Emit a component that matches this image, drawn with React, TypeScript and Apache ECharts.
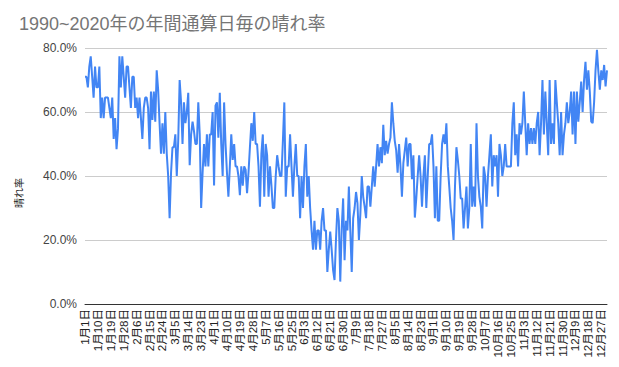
import React, { useEffect, useRef } from "react";
import * as echarts from "echarts";

const TITLE = "1990~2020年の年間通算日毎の晴れ率";
const Y_NAME = "晴れ率";
const monthDays = [31, 28, 31, 30, 31, 30, 31, 31, 30, 31, 30, 31];
const yTicks = [0, 20, 40, 60, 80];

// 晴れ率 (%) by day of year
const jan = [71.0, 71.0, 67.7, 74.2, 77.4, 71.0, 64.5, 74.2, 67.7, 67.7, 74.2, 58.1, 64.5, 58.1, 64.5, 64.5, 64.5, 61.3, 58.1, 64.5, 51.6, 58.1, 48.4, 54.8, 77.4, 67.7, 77.4, 71.0, 64.5, 74.2, 74.2];
const feb = [67.7, 61.3, 71.0, 71.0, 61.3, 64.5, 58.1, 64.5, 58.1, 51.6, 61.3, 64.5, 64.5, 61.3, 48.4, 66.4, 57.5, 66.4, 57, 73, 67, 56.5, 47, 56.5, 47, 60, 47, 40];
const mar = [26.8, 41, 49, 49, 53, 40, 51, 70, 63, 50, 63, 56.5, 60, 66, 43.4, 53, 57, 54, 50, 50, 63, 53, 30, 41, 50, 43, 53, 43, 53, 53, 60];
const apr = [37, 62, 63, 52, 66, 50, 40, 63, 50, 41, 33.5, 43, 53, 45, 50, 43, 43, 40, 34, 43, 37, 43, 42, 34.6, 41, 49, 56.5, 51, 60, 50];
const may = [50, 43, 30.4, 47, 53, 33.5, 50, 46.5, 33.5, 43, 37, 30, 30, 40, 46.5, 43, 40, 40, 51, 63, 33.5, 43, 43, 53, 43, 33.5, 43, 50, 40, 40, 26.8];
const jun = [40, 30, 43, 50, 33.5, 40, 30, 23, 17, 26, 17, 23, 23, 17, 26, 30, 23, 23, 10, 17, 22.6, 17, 10.6, 7.5, 20, 30, 26, 7, 23.6, 33];
const jul = [13.7, 26, 23, 36.7, 23, 10, 26.8, 30, 35, 31.5, 20, 28, 40, 33.5, 30.4, 26.8, 36.7, 36.7, 30.4, 36.7, 43, 36.7, 43, 50, 43, 49, 44, 56, 46.5, 51, 47];
const aug = [50, 52, 63, 56.5, 51, 48, 41, 50, 43, 33.5, 44, 48, 52, 43, 50, 50, 39, 46.5, 27, 33, 40, 46.5, 40, 30.4, 40, 46.5, 30, 40, 50, 50, 53];
const sep = [43, 26.8, 43, 26, 26, 40, 50, 53, 50, 56.5, 43, 36.7, 30, 26, 20, 36.7, 49, 45, 40, 33, 33, 23.6, 30, 36.7, 23.6, 30, 50, 30.4, 36.7, 30.4];
const oct = [56.5, 40, 33.5, 30.4, 23.6, 43, 40, 30.4, 40, 46.5, 53, 36.7, 46.5, 43, 46.5, 33.5, 50, 46.5, 40, 43, 50, 43, 43, 43, 43, 56.5, 63, 46.5, 53, 43, 56.5];
const nov = [53, 56.5, 66.4, 56.5, 46.5, 56.5, 50, 55, 50, 55, 50, 56.5, 60, 46.5, 56.5, 70, 53, 66.4, 56.5, 46.5, 70, 50, 56.5, 50, 70, 63, 56.5, 46.5, 60, 46.5];
const dec = [53, 56.5, 63, 56.5, 60, 66.4, 53, 66.4, 50, 66.4, 57, 63, 69.5, 60, 70, 75.7, 67, 73, 66.4, 57, 56.5, 63, 73, 79.4, 72.6, 67, 73, 70, 74.7, 68, 73];

const months = [jan, feb, mar, apr, may, jun, jul, aug, sep, oct, nov, dec];

const FONT = "Arial, 'Liberation Sans', 'Noto Sans CJK JP', sans-serif";

export default function App() {
  const ref = useRef<HTMLDivElement>(null);
  useEffect(() => {
    if (!ref.current) return;
    const chart = echarts.init(ref.current, undefined, { renderer: "svg" });
    const categories: string[] = [];
    monthDays.forEach((n, m) => {
      for (let d = 1; d <= n; d++) categories.push(`${m + 1}月${d}日`);
    });
    const values: number[] = ([] as number[]).concat(...months);
    chart.setOption({
      animation: false,
      title: {
        text: TITLE,
        left: 14,
        top: 10,
        textStyle: { fontSize: 18, fontWeight: "normal", color: "#757575", fontFamily: FONT },
      },
      grid: { left: 85, right: 12, top: 48, bottom: 63, containLabel: false },
      xAxis: {
        type: "category",
        data: categories,
        boundaryGap: false,
        axisTick: { show: false },
        axisLine: { lineStyle: { color: "#333", width: 1 } },
        splitLine: { show: false },
        axisLabel: { interval: 8, rotate: 90, fontSize: 11.5, color: "#222", margin: 5, fontFamily: FONT },
      },
      yAxis: {
        type: "value",
        min: yTicks[0],
        max: yTicks[yTicks.length - 1],
        interval: 20,
        axisLine: { show: false },
        axisTick: { show: false },
        splitLine: { lineStyle: { color: "#cccccc", width: 1 } },
        axisLabel: {
          formatter: (v: number) => `${v.toFixed(1)}%`,
          fontSize: 12,
          color: "#444",
          margin: 8,
          fontFamily: FONT,
        },
      },
      graphic: [
        {
          type: "text",
          x: 19,
          y: 193,
          rotation: Math.PI / 2,
          style: {
            text: Y_NAME,
            fontSize: 10,
            fill: "#222",
            textAlign: "center",
            textVerticalAlign: "middle",
            fontFamily: FONT,
          },
        },
      ],
      series: [
        {
          type: "line",
          data: values,
          symbol: "none",
          showSymbol: false,
          lineStyle: { color: "#4285F4", width: 2 },
          itemStyle: { color: "#4285F4" },
        },
      ],
    });
    return () => chart.dispose();
  }, []);
  return (
    <div
      ref={ref}
      style={{ position: "fixed", left: 0, top: 0, width: 619, height: 367, background: "#fff" }}
    />
  );
}
